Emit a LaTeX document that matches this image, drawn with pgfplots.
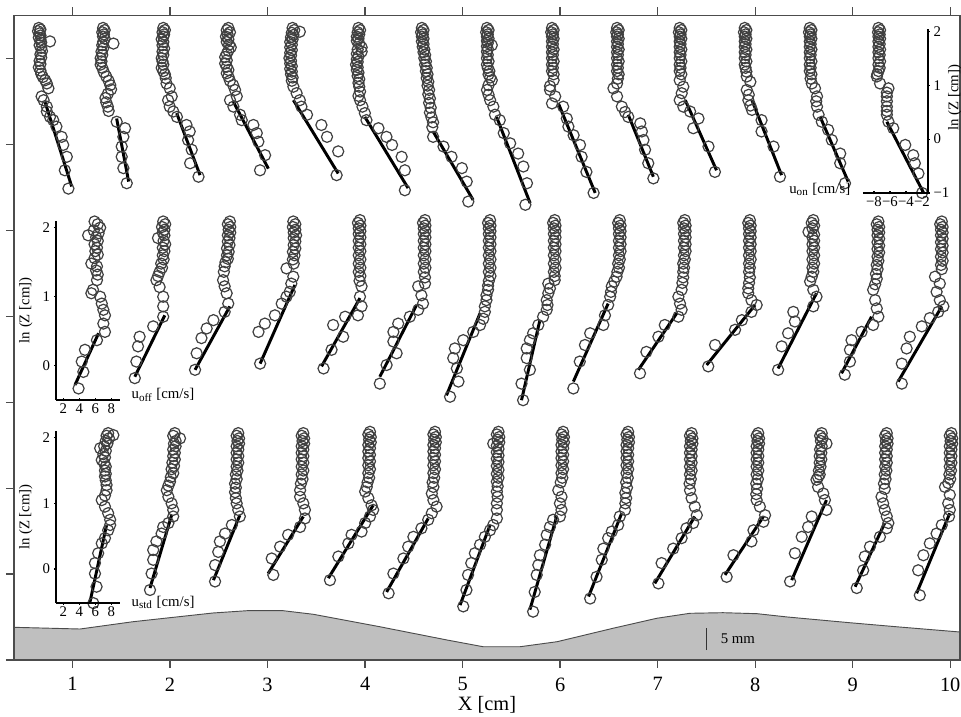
\documentclass[border=0pt]{standalone}
\usepackage{fontspec}
\setmainfont{Liberation Serif}
\usepackage{pgfplots}
\pgfplotsset{compat=1.18}
\newlength\px \setlength\px{0.019cm}
\pgfplotsset{
 circ/.style={only marks, mark=o, mark size=3.0pt, mark options={draw=black!75, line width=0.65pt}},
 fitl/.style={black, line width=1.6pt, mark=none},
 rowax/.style={scale only axis, anchor=south west, width=946\px, xmin=0.4, xmax=10.1, hide axis, clip=false},
 inset/.style={scale only axis, anchor=south west, clip=false,
   tick align=inside, major tick length=3\px, tick style={black, line width=0.6pt},
   tick label style={font=\fontsize{8}{9}\selectfont}, label style={font=\fontsize{8}{9}\selectfont},
   /pgf/number format/assume math mode=true},
 insetlines/.style={x axis line style={-, black, line width=0.9pt}, y axis line style={-, black, line width=0.9pt},
   every outer x axis line/.append style={-}, every outer y axis line/.append style={-}},
}
\newcommand\prof[3]{%
 \addplot[circ] table[row sep=\\, x expr=#1+0.08203*\thisrow{u}, y=z]{u z\\ #2};
 \addplot[fitl] table[row sep=\\, x expr=#1+0.08203*\thisrow{u}, y=z]{u z\\ #3};
}
\begin{document}
\begin{tikzpicture}
\useasboundingbox (0,0) rectangle (961\px,716\px);
% ---------------- main axis with bed ----------------
\begin{axis}[at={(14\px,56\px)}, anchor=south west, scale only axis, width=946\px, height=644.7\px,
  xmin=0.4, xmax=10.1, ymin=0, ymax=148.55, axis on top,
  xtick={1,2,...,10}, ytick={0,19.79,39.59,59.38,79.17,98.96,118.76,138.55}, yticklabels={},
  tick align=outside, major tick length=8\px,
  axis line style={black!70, line width=0.7pt}, tick style={black!70, line width=0.7pt},
  tick label style={font=\fontsize{11}{12}\selectfont}, label style={font=\fontsize{11}{12}\selectfont},
  xticklabel style={yshift=-3\px},
  /pgf/number format/assume math mode=true,
  xlabel={X [cm]}, xlabel style={at={(axis description cs:0.5,0)}, anchor=base, yshift=-50\px}]
\addplot[draw=black!70, line width=0.5pt, fill={rgb,255:red,191;green,191;blue,191}] coordinates {
(0.40,7.53)(1.077,7.14)(1.62,8.82)(2.44,10.83)(2.79,11.36)(3.16,11.36)(3.47,10.53)(4.15,7.67)(4.84,4.61)(5.21,3.06)(5.59,3.06)(5.97,4.22)(6.54,7.30)(6.99,9.61)(7.33,10.76)(7.67,10.90)(8.02,10.67)(8.33,9.91)(8.97,8.59)(9.48,7.60)(10.10,6.45)} \closedcycle;
\addplot[black!80, line width=0.6pt] coordinates {(7.5,2.3)(7.5,7.3)};
\node[anchor=west, font=\fontsize{8}{9}\selectfont] at (axis cs:7.58,4.8) {5 mm};
\end{axis}
% ---------------- top row (onshore) ----------------
\begin{axis}[rowax, at={(14\px,506.9\px)}, height=194.1\px, ymin=-1.3, ymax=2.3]
\prof{1.204}{-6.7 2.06\\ -6.5 2.03\\ -6.8 2.0\\ -6.6 1.96\\ -6.5 1.92\\ -6.7 1.88\\ -5.3 1.81\\ -6.5 1.84\\ -6.4 1.79\\ -6.6 1.74\\ -6.4 1.69\\ -6.3 1.63\\ -6.5 1.57\\ -6.4 1.51\\ -6.6 1.45\\ -6.5 1.39\\ -6.7 1.33\\ -6.5 1.27\\ -6.4 1.21\\ -6.2 1.15\\ -5.9 1.09\\ -5.7 1.03\\ -5.5 0.94\\ -6.35 0.79\\ -6.1 0.72\\ -5.7 0.60\\ -5.7 0.51\\ -5.3 0.41\\ -4.9 0.35\\ -4.5 0.23\\ -3.85 0.04\\ -3.65 -0.11\\ -3.2 -0.33\\ -3.45 -0.58\\ -3.0 -0.92\\}{-5.93 0.69\\ -2.59 -0.88\\}
\prof{1.871}{-6.8 2.06\\ -6.6 2.02\\ -6.9 1.98\\ -6.7 1.94\\ -6.8 1.9\\ -6.6 1.86\\ -5.5 1.77\\ -6.8 1.8\\ -6.9 1.74\\ -6.8 1.68\\ -7.0 1.62\\ -6.9 1.56\\ -7.1 1.5\\ -7.0 1.44\\ -7.1 1.38\\ -6.9 1.32\\ -6.7 1.24\\ -6.4 1.16\\ -6.1 1.08\\ -5.9 1.0\\ -5.8 0.92\\ -6.2 0.84\\ -6.5 0.76\\ -6.4 0.68\\ -6.2 0.6\\ -6.1 0.52\\ -5.1 0.32\\ -4.05 0.20\\ -4.26 0.04\\ -4.47 -0.14\\ -4.47 -0.33\\ -4.26 -0.54\\ -3.84 -0.82\\}{-5.1 0.38\\ -3.6 -0.79\\}
\prof{2.538}{-7.4 2.06\\ -7.2 2.02\\ -7.5 1.98\\ -7.3 1.94\\ -7.4 1.9\\ -7.6 1.85\\ -7.4 1.8\\ -7.5 1.74\\ -7.3 1.68\\ -7.5 1.62\\ -7.4 1.56\\ -7.6 1.5\\ -7.5 1.44\\ -7.4 1.38\\ -7.6 1.32\\ -7.4 1.26\\ -7.2 1.2\\ -7.1 1.13\\ -7.0 1.03\\ -6.6 0.94\\ -6.35 0.79\\ -6.8 0.72\\ -6.6 0.6\\ -6.15 0.51\\ -5.7 0.41\\ -4.5 0.26\\ -4.1 0.14\\ -4.3 -0.02\\ -3.85 -0.2\\ -4.05 -0.45\\ -3.0 -0.70\\}{-5.73 0.48\\ -2.81 -0.67\\}
\prof{3.205}{-7.4 2.06\\ -7.6 2.02\\ -7.2 1.98\\ -7.5 1.94\\ -7.7 1.9\\ -7.4 1.85\\ -7.6 1.8\\ -7.3 1.75\\ -7.1 1.7\\ -7.4 1.64\\ -7.6 1.58\\ -7.8 1.52\\ -7.6 1.46\\ -7.8 1.4\\ -7.6 1.34\\ -7.4 1.28\\ -7.6 1.22\\ -7.4 1.16\\ -7.2 1.08\\ -6.8 1.0\\ -6.56 0.91\\ -6.35 0.79\\ -7.19 0.72\\ -6.77 0.60\\ -5.94 0.45\\ -5.73 0.35\\ -4.27 0.26\\ -3.85 0.11\\ -3.65 -0.05\\ -2.81 -0.30\\ -3.44 -0.58\\}{-6.77 0.69\\ -2.40 -0.55\\}
\prof{3.872}{-7.5 2.06\\ -7.3 2.02\\ -6.6 1.99\\ -7.6 1.97\\ -7.4 1.93\\ -7.7 1.89\\ -7.5 1.85\\ -7.8 1.8\\ -7.6 1.75\\ -7.8 1.7\\ -7.6 1.65\\ -7.8 1.6\\ -7.7 1.55\\ -7.9 1.5\\ -7.7 1.45\\ -7.8 1.4\\ -7.6 1.35\\ -7.8 1.3\\ -7.6 1.25\\ -7.7 1.2\\ -7.5 1.14\\ -7.6 1.08\\ -7.4 0.97\\ -7.0 0.85\\ -6.6 0.72\\ -6.4 0.60\\ -5.7 0.45\\ -3.9 0.26\\ -3.2 0.04\\ -1.8 -0.23\\ -2.0 -0.67\\}{-7.4 0.72\\ -1.8 -0.64\\}
\prof{4.539}{-7.4 2.06\\ -7.2 2.02\\ -7.5 1.98\\ -7.3 1.94\\ -7.6 1.9\\ -7.4 1.86\\ -7.6 1.82\\ -7.3 1.77\\ -7.0 1.7\\ -7.0 1.62\\ -7.5 1.66\\ -7.6 1.58\\ -7.4 1.53\\ -7.6 1.48\\ -7.5 1.43\\ -7.7 1.38\\ -7.5 1.33\\ -7.6 1.28\\ -7.4 1.23\\ -7.5 1.17\\ -7.3 1.11\\ -7.4 1.04\\ -7.3 0.97\\ -7.2 0.88\\ -7.4 0.80\\ -7.2 0.72\\ -6.9 0.6\\ -6.6 0.48\\ -6.4 0.35\\ -4.9 0.20\\ -3.9 0.04\\ -3.2 -0.11\\ -2.0 -0.33\\ -1.6 -0.58\\ -1.6 -0.95\\}{-6.6 0.41\\ -1.2 -0.91\\}
\prof{5.206}{-7.6 2.06\\ -7.4 2.02\\ -7.7 1.98\\ -7.5 1.94\\ -7.6 1.9\\ -7.4 1.86\\ -7.6 1.81\\ -7.4 1.76\\ -7.5 1.71\\ -7.3 1.66\\ -7.4 1.61\\ -7.2 1.56\\ -7.3 1.5\\ -7.1 1.44\\ -7.2 1.38\\ -7.0 1.32\\ -7.1 1.26\\ -6.9 1.2\\ -7.0 1.13\\ -6.8 1.06\\ -6.9 0.99\\ -6.7 0.91\\ -6.8 0.83\\ -6.6 0.75\\ -6.7 0.67\\ -6.5 0.58\\ -6.6 0.49\\ -6.4 0.4\\ -6.2 0.31\\ -6.3 0.22\\ -6.2 0.04\\ -4.9 -0.14\\ -3.9 -0.33\\ -2.6 -0.54\\ -2.0 -0.79\\ -1.8 -1.16\\}{-6.2 0.14\\ -1.2 -1.13\\}
\prof{5.873}{-7.6 2.06\\ -7.4 2.02\\ -7.7 1.98\\ -7.5 1.94\\ -7.6 1.9\\ -7.4 1.86\\ -7.0 1.74\\ -7.6 1.82\\ -7.5 1.78\\ -7.6 1.72\\ -7.5 1.67\\ -7.6 1.62\\ -7.5 1.56\\ -7.6 1.5\\ -7.4 1.44\\ -7.6 1.38\\ -7.5 1.32\\ -7.3 1.26\\ -7.4 1.2\\ -7.2 1.14\\ -7.0 1.09\\ -7.4 1.0\\ -7.6 0.91\\ -7.4 0.82\\ -7.2 0.72\\ -6.8 0.60\\ -6.6 0.45\\ -6.0 0.35\\ -5.5 0.11\\ -4.7 -0.08\\ -3.7 -0.27\\ -3.05 -0.51\\ -2.6 -0.82\\ -2.8 -1.22\\}{-6.4 0.41\\ -2.2 -1.19\\}
\prof{6.540}{-7.6 2.06\\ -7.4 2.02\\ -7.7 1.98\\ -7.5 1.94\\ -7.6 1.9\\ -7.4 1.86\\ -7.6 1.81\\ -7.5 1.76\\ -7.6 1.71\\ -7.4 1.66\\ -7.6 1.61\\ -7.5 1.56\\ -7.6 1.5\\ -7.4 1.44\\ -7.6 1.38\\ -7.5 1.32\\ -7.6 1.26\\ -7.4 1.2\\ -7.4 1.09\\ -7.85 0.98\\ -7.85 0.91\\ -7.2 0.79\\ -7.6 0.66\\ -6.2 0.60\\ -5.75 0.38\\ -5.55 0.23\\ -4.9 0.07\\ -4.1 -0.11\\ -3.9 -0.33\\ -3.3 -0.61\\ -2.4 -1.0\\}{-6.8 0.66\\ -2.2 -1.0\\}
\prof{7.207}{-7.6 2.06\\ -7.4 2.02\\ -7.7 1.98\\ -7.5 1.94\\ -7.6 1.9\\ -7.4 1.86\\ -7.6 1.81\\ -7.5 1.76\\ -7.6 1.71\\ -7.4 1.66\\ -7.6 1.61\\ -7.5 1.56\\ -7.6 1.5\\ -7.4 1.44\\ -7.6 1.38\\ -7.5 1.32\\ -7.6 1.26\\ -7.4 1.2\\ -7.5 1.12\\ -7.6 1.03\\ -8.05 0.94\\ -7.6 0.79\\ -7.0 0.60\\ -6.6 0.50\\ -6.2 0.41\\ -4.7 0.29\\ -4.5 0.14\\ -4.3 -0.02\\ -4.1 -0.20\\ -3.7 -0.45\\ -3.06 -0.73\\}{-6.2 0.45\\ -3.06 -0.70\\}
\prof{7.874}{-7.9 2.06\\ -7.7 2.02\\ -8.0 1.98\\ -7.8 1.94\\ -7.9 1.9\\ -7.7 1.86\\ -7.9 1.81\\ -7.8 1.76\\ -7.9 1.71\\ -7.7 1.66\\ -7.9 1.61\\ -7.8 1.56\\ -7.9 1.5\\ -7.7 1.44\\ -7.9 1.38\\ -7.8 1.32\\ -7.9 1.26\\ -7.7 1.2\\ -7.9 1.09\\ -7.45 0.97\\ -7.65 0.85\\ -7.9 0.72\\ -7.45 0.60\\ -6.6 0.51\\ -5.55 0.38\\ -6.2 0.20\\ -4.3 -0.14\\ -3.5 -0.61\\}{-7.2 0.72\\ -3.3 -0.58\\}
\prof{8.541}{-7.9 2.06\\ -7.7 2.02\\ -8.0 1.98\\ -7.8 1.94\\ -7.9 1.9\\ -7.7 1.86\\ -7.9 1.81\\ -7.8 1.76\\ -7.9 1.71\\ -7.7 1.66\\ -7.9 1.61\\ -7.8 1.56\\ -7.9 1.5\\ -7.7 1.44\\ -7.9 1.38\\ -7.8 1.32\\ -7.7 1.25\\ -7.65 1.16\\ -7.2 1.06\\ -7.65 0.91\\ -7.4 0.82\\ -7.45 0.72\\ -7.2 0.62\\ -7.0 0.54\\ -5.8 0.35\\ -5.8 0.14\\ -4.3 -0.14\\ -3.5 -0.70\\}{-7.0 0.72\\ -3.3 -0.67\\}
\prof{9.208}{-7.9 2.06\\ -7.7 2.02\\ -8.0 1.98\\ -7.8 1.94\\ -7.9 1.9\\ -7.7 1.86\\ -7.9 1.81\\ -7.8 1.76\\ -7.9 1.71\\ -7.7 1.66\\ -7.9 1.61\\ -7.8 1.56\\ -7.9 1.5\\ -7.7 1.44\\ -7.9 1.38\\ -7.8 1.32\\ -7.9 1.26\\ -7.7 1.2\\ -7.8 1.12\\ -7.65 1.03\\ -7.25 0.94\\ -7.0 0.79\\ -7.1 0.70\\ -7.0 0.60\\ -6.8 0.45\\ -6.4 0.32\\ -5.6 0.17\\ -5.15 -0.02\\ -4.1 -0.27\\ -4.1 -0.45\\ -3.5 -0.82\\}{-6.6 0.41\\ -3.1 -0.79\\}
\prof{9.875}{-7.45 2.06\\ -7.25 2.02\\ -7.5 1.98\\ -7.3 1.94\\ -7.45 1.9\\ -7.25 1.86\\ -7.45 1.81\\ -7.3 1.76\\ -7.45 1.71\\ -7.25 1.66\\ -7.45 1.61\\ -7.3 1.56\\ -7.45 1.5\\ -7.25 1.44\\ -7.45 1.38\\ -7.3 1.32\\ -7.45 1.26\\ -7.6 1.2\\ -7.65 1.16\\ -7.25 1.03\\ -6.2 0.94\\ -6.4 0.86\\ -6.4 0.79\\ -6.4 0.70\\ -6.4 0.60\\ -6.4 0.52\\ -6.4 0.45\\ -6.2 0.32\\ -5.6 0.20\\ -4.1 -0.11\\ -3.1 -0.30\\ -2.9 -0.45\\ -2.45 -0.64\\ -2.0 -1.0\\}{-6.4 0.32\\ -1.8 -1.0\\}
\end{axis}
% ---------------- middle row (offshore) ----------------
\begin{axis}[rowax, at={(14\px,295.1\px)}, height=207\px, ymin=-0.8, ymax=2.2]
\prof{0.742}{5.9 2.09\\ 6.3 2.05\\ 6.6 2.0\\ 5.8 1.96\\ 6.4 1.92\\ 5.1 1.89\\ 6.1 1.86\\ 6.3 1.81\\ 5.9 1.76\\ 6.2 1.71\\ 6.0 1.66\\ 6.3 1.61\\ 5.9 1.56\\ 5.5 1.48\\ 6.2 1.44\\ 6.1 1.38\\ 6.3 1.32\\ 6.2 1.24\\ 5.7 1.10\\ 5.5 1.05\\ 6.6 1.0\\ 6.8 0.90\\ 7.0 0.81\\ 7.2 0.73\\ 7.0 0.61\\ 7.2 0.49\\ 6.2 0.37\\ 4.7 0.23\\ 4.3 0.06\\ 4.5 -0.09\\ 3.9 -0.33\\}{3.45 -0.28\\ 6.4 0.47\\}
\prof{1.409}{6.35 2.09\\ 6.6 2.05\\ 6.2 2.01\\ 6.5 1.97\\ 6.3 1.93\\ 5.7 1.85\\ 6.5 1.89\\ 6.4 1.81\\ 6.6 1.76\\ 6.3 1.71\\ 6.5 1.66\\ 6.3 1.6\\ 6.4 1.54\\ 6.1 1.48\\ 6.2 1.42\\ 5.9 1.36\\ 5.7 1.3\\ 5.5 1.24\\ 5.9 1.14\\ 6.35 1.0\\ 6.35 0.86\\ 6.35 0.71\\ 5.1 0.57\\ 3.4 0.42\\ 3.2 0.28\\ 3.0 0.06\\ 2.8 -0.18\\}{2.8 -0.16\\ 6.55 0.73\\}
\prof{2.076}{6.55 2.09\\ 6.3 2.05\\ 6.6 2.01\\ 6.4 1.97\\ 6.6 1.93\\ 6.3 1.89\\ 6.5 1.85\\ 6.3 1.8\\ 6.5 1.75\\ 6.2 1.7\\ 6.4 1.65\\ 6.2 1.6\\ 6.3 1.55\\ 6.0 1.5\\ 5.9 1.44\\ 5.8 1.36\\ 5.7 1.24\\ 5.9 1.15\\ 6.15 1.05\\ 6.35 0.90\\ 5.9 0.78\\ 4.5 0.66\\ 3.65 0.54\\ 3.0 0.40\\ 2.4 0.18\\ 2.2 -0.06\\}{2.2 -0.06\\ 6.55 0.86\\}
\prof{2.743}{6.35 2.09\\ 6.6 2.05\\ 6.3 2.01\\ 6.6 1.97\\ 6.4 1.93\\ 6.7 1.89\\ 6.4 1.85\\ 6.6 1.8\\ 6.4 1.75\\ 6.6 1.7\\ 6.3 1.65\\ 6.5 1.6\\ 6.3 1.54\\ 6.4 1.48\\ 5.5 1.41\\ 6.35 1.29\\ 6.1 1.19\\ 5.9 1.07\\ 5.5 1.0\\ 4.9 0.90\\ 4.05 0.73\\ 2.8 0.61\\ 2.0 0.49\\ 2.2 0.03\\}{2.2 0.03\\ 6.55 1.17\\}
\prof{3.410}{6.55 2.11\\ 6.3 2.07\\ 6.6 2.03\\ 6.4 1.99\\ 6.6 1.95\\ 6.4 1.91\\ 6.6 1.86\\ 6.4 1.81\\ 6.6 1.76\\ 6.4 1.71\\ 6.6 1.66\\ 6.4 1.6\\ 6.6 1.54\\ 6.4 1.48\\ 6.6 1.42\\ 6.4 1.36\\ 6.6 1.3\\ 6.5 1.23\\ 6.75 1.15\\ 6.55 1.0\\ 6.75 0.86\\ 6.3 0.73\\ 4.7 0.71\\ 3.2 0.59\\ 4.45 0.42\\ 3.0 0.23\\ 2.0 -0.04\\}{1.75 -0.01\\ 6.55 0.98\\}
\prof{4.077}{6.55 2.11\\ 6.3 2.07\\ 6.6 2.03\\ 6.4 1.99\\ 6.6 1.95\\ 6.4 1.91\\ 6.6 1.86\\ 6.4 1.81\\ 6.6 1.76\\ 6.4 1.71\\ 6.6 1.66\\ 6.4 1.6\\ 6.6 1.54\\ 6.4 1.48\\ 6.6 1.42\\ 6.4 1.36\\ 6.55 1.28\\ 6.55 1.19\\ 5.7 1.15\\ 6.1 1.02\\ 6.3 0.90\\ 5.7 0.81\\ 4.65 0.71\\ 3.2 0.61\\ 2.6 0.49\\ 2.6 0.35\\ 3.0 0.18\\ 1.75 0.01\\ 0.9 -0.26\\}{0.9 -0.16\\ 5.5 0.88\\}
\prof{4.744}{6.55 2.11\\ 6.3 2.07\\ 6.6 2.03\\ 6.4 1.99\\ 6.6 1.95\\ 6.4 1.91\\ 6.6 1.86\\ 6.4 1.81\\ 6.6 1.76\\ 6.4 1.71\\ 6.6 1.66\\ 6.4 1.6\\ 6.6 1.54\\ 6.4 1.48\\ 6.6 1.42\\ 6.4 1.36\\ 6.6 1.3\\ 6.4 1.23\\ 6.3 1.16\\ 6.3 1.10\\ 6.1 1.02\\ 6.1 0.95\\ 5.9 0.86\\ 5.9 0.78\\ 5.7 0.68\\ 5.3 0.59\\ 4.45 0.49\\ 3.2 0.37\\ 2.15 0.25\\ 1.95 0.11\\ 2.4 -0.04\\ 2.6 -0.23\\ 1.55 -0.45\\}{1.1 -0.43\\ 5.3 0.76\\}
\prof{5.411}{6.5 2.11\\ 6.3 2.07\\ 6.6 2.03\\ 6.4 1.99\\ 6.6 1.95\\ 6.4 1.91\\ 6.6 1.86\\ 6.4 1.81\\ 6.6 1.76\\ 6.4 1.71\\ 6.6 1.66\\ 6.4 1.6\\ 6.6 1.54\\ 6.4 1.48\\ 6.6 1.42\\ 6.4 1.36\\ 6.5 1.3\\ 6.5 1.24\\ 5.7 1.19\\ 5.9 1.12\\ 5.7 1.05\\ 5.5 0.95\\ 5.6 0.88\\ 5.5 0.81\\ 5.05 0.71\\ 4.45 0.59\\ 3.8 0.47\\ 3.4 0.37\\ 3.0 0.25\\ 3.0 0.11\\ 3.4 -0.06\\ 2.35 -0.26\\ 2.55 -0.50\\}{2.35 -0.50\\ 4.65 0.66\\}
\prof{6.078}{6.5 2.11\\ 6.3 2.07\\ 6.6 2.03\\ 6.4 1.99\\ 6.6 1.95\\ 6.4 1.91\\ 6.6 1.86\\ 6.4 1.81\\ 6.6 1.76\\ 6.4 1.71\\ 6.6 1.66\\ 6.4 1.6\\ 6.5 1.54\\ 6.3 1.48\\ 6.4 1.42\\ 6.2 1.36\\ 6.1 1.29\\ 5.8 1.22\\ 5.5 1.15\\ 5.4 1.07\\ 5.3 1.0\\ 5.05 0.88\\ 4.65 0.73\\ 4.45 0.59\\ 2.8 0.47\\ 2.15 0.30\\ 1.5 0.06\\ 0.7 -0.33\\}{0.7 -0.23\\ 5.05 0.90\\}
\prof{6.745}{6.5 2.11\\ 6.3 2.07\\ 6.6 2.03\\ 6.4 1.99\\ 6.6 1.95\\ 6.4 1.91\\ 6.6 1.86\\ 6.4 1.81\\ 6.6 1.76\\ 6.4 1.71\\ 6.6 1.66\\ 6.4 1.6\\ 6.5 1.54\\ 6.3 1.48\\ 6.4 1.42\\ 6.3 1.36\\ 6.3 1.28\\ 6.2 1.2\\ 6.1 1.10\\ 5.7 1.0\\ 5.9 0.90\\ 6.1 0.81\\ 5.7 0.71\\ 4.0 0.59\\ 3.2 0.42\\ 1.7 0.20\\ 0.9 -0.11\\}{0.7 -0.06\\ 5.5 0.76\\}
\prof{7.412}{6.5 2.11\\ 6.3 2.07\\ 6.6 2.03\\ 6.4 1.99\\ 6.6 1.95\\ 6.4 1.91\\ 6.6 1.86\\ 6.4 1.81\\ 6.6 1.76\\ 6.4 1.71\\ 6.6 1.66\\ 6.4 1.6\\ 6.6 1.54\\ 6.4 1.48\\ 6.5 1.42\\ 6.4 1.36\\ 6.5 1.28\\ 6.4 1.2\\ 6.3 1.12\\ 6.3 1.05\\ 6.7 0.95\\ 7.35 0.88\\ 6.7 0.78\\ 5.5 0.66\\ 4.65 0.52\\ 2.15 0.30\\ 1.3 -0.01\\}{1.1 0.01\\ 7.15 0.88\\}
\prof{8.079}{6.3 2.11\\ 6.1 2.07\\ 6.4 2.03\\ 5.7 1.94\\ 6.2 1.99\\ 6.4 1.9\\ 6.2 1.86\\ 6.4 1.81\\ 6.2 1.76\\ 6.4 1.71\\ 6.2 1.66\\ 6.4 1.6\\ 6.2 1.54\\ 6.4 1.48\\ 6.2 1.42\\ 6.3 1.36\\ 6.1 1.29\\ 5.9 1.22\\ 6.3 1.10\\ 6.7 1.0\\ 6.3 0.86\\ 3.8 0.78\\ 4.0 0.64\\ 3.15 0.47\\ 2.35 0.28\\ 1.9 -0.06\\}{1.9 -0.04\\ 6.7 1.05\\}
\prof{8.746}{6.3 2.09\\ 6.1 2.05\\ 6.4 2.01\\ 6.2 1.97\\ 6.4 1.93\\ 6.2 1.89\\ 6.4 1.84\\ 6.2 1.79\\ 6.4 1.74\\ 6.2 1.69\\ 6.4 1.64\\ 6.2 1.58\\ 6.3 1.52\\ 6.1 1.46\\ 6.2 1.4\\ 6.0 1.33\\ 6.1 1.26\\ 5.9 1.18\\ 5.65 1.10\\ 5.9 0.95\\ 6.1 0.83\\ 6.3 0.71\\ 5.65 0.59\\ 4.2 0.49\\ 2.95 0.37\\ 2.75 0.23\\ 2.75 0.06\\ 2.1 -0.13\\}{1.7 -0.11\\ 5.45 0.71\\}
\prof{9.413}{6.1 2.09\\ 5.9 2.05\\ 6.2 2.01\\ 6.0 1.97\\ 6.2 1.93\\ 6.0 1.89\\ 6.2 1.84\\ 6.0 1.79\\ 6.2 1.74\\ 6.0 1.69\\ 6.2 1.64\\ 6.0 1.58\\ 6.2 1.52\\ 6.0 1.46\\ 6.1 1.4\\ 5.25 1.29\\ 5.85 1.19\\ 5.45 1.07\\ 5.85 0.95\\ 6.3 0.86\\ 5.65 0.78\\ 4.6 0.69\\ 3.6 0.57\\ 2.1 0.42\\ 1.7 0.25\\ 1.1 0.03\\ 1.1 -0.26\\}{0.65 -0.23\\ 6.1 0.86\\}
\end{axis}
% ---------------- bottom row (std) ----------------
\begin{axis}[rowax, at={(14\px,94.5\px)}, height=196.9\px, ymin=-0.8, ymax=2.2]
\prof{0.742}{7.6 2.07\\ 8.25 2.04\\ 7.4 2.03\\ 7.7 1.99\\ 7.3 1.95\\ 7.5 1.91\\ 7.1 1.87\\ 6.6 1.84\\ 7.3 1.8\\ 7.0 1.75\\ 7.2 1.7\\ 6.8 1.66\\ 7.1 1.61\\ 7.3 1.56\\ 7.2 1.5\\ 7.3 1.45\\ 7.2 1.41\\ 7.3 1.35\\ 7.4 1.28\\ 7.4 1.20\\ 7.2 1.12\\ 6.8 1.05\\ 7.2 0.95\\ 7.6 0.85\\ 7.85 0.75\\ 7.85 0.67\\ 7.6 0.59\\ 7.2 0.47\\ 6.8 0.39\\ 6.35 0.24\\ 5.95 0.09\\ 5.95 -0.07\\ 6.15 -0.27\\ 5.75 -0.52\\}{5.3 -0.52\\ 7.4 0.67\\}
\prof{1.409}{7.8 2.07\\ 8.45 1.99\\ 7.6 2.03\\ 7.9 1.95\\ 7.7 1.91\\ 7.9 1.87\\ 7.6 1.82\\ 7.8 1.77\\ 7.6 1.72\\ 7.8 1.67\\ 7.5 1.62\\ 7.7 1.57\\ 7.4 1.52\\ 7.6 1.46\\ 7.3 1.4\\ 7.2 1.33\\ 7.0 1.27\\ 6.8 1.20\\ 7.0 1.10\\ 7.4 1.0\\ 7.6 0.90\\ 7.6 0.80\\ 7.0 0.70\\ 6.35 0.64\\ 6.15 0.54\\ 5.5 0.42\\ 5.1 0.29\\ 5.1 0.14\\ 4.9 -0.07\\ 4.7 -0.32\\}{4.7 -0.29\\ 7.4 0.82\\}
\prof{2.076}{7.6 2.07\\ 7.4 2.03\\ 7.7 1.99\\ 7.5 1.95\\ 7.7 1.91\\ 7.4 1.87\\ 7.6 1.82\\ 7.4 1.77\\ 7.6 1.72\\ 7.4 1.67\\ 7.6 1.62\\ 7.4 1.56\\ 7.5 1.5\\ 7.3 1.44\\ 7.4 1.37\\ 7.2 1.3\\ 7.3 1.24\\ 7.2 1.17\\ 7.3 1.08\\ 7.4 1.0\\ 7.6 0.90\\ 7.8 0.80\\ 6.8 0.67\\ 5.95 0.54\\ 5.3 0.42\\ 5.1 0.26\\ 4.7 0.06\\ 4.7 -0.19\\}{4.5 -0.17\\ 7.8 0.82\\}
\prof{2.743}{7.6 2.07\\ 7.4 2.03\\ 7.7 1.99\\ 7.5 1.95\\ 7.7 1.91\\ 7.4 1.87\\ 7.6 1.82\\ 7.4 1.77\\ 7.6 1.72\\ 7.4 1.67\\ 7.6 1.62\\ 7.4 1.56\\ 7.6 1.5\\ 7.4 1.44\\ 7.5 1.37\\ 7.3 1.3\\ 7.2 1.2\\ 7.2 1.10\\ 7.6 1.0\\ 7.8 0.90\\ 7.8 0.77\\ 7.2 0.64\\ 5.7 0.52\\ 4.7 0.34\\ 3.65 0.16\\ 3.85 -0.09\\}{3.2 -0.07\\ 7.6 0.80\\}
\prof{3.410}{7.8 2.09\\ 7.6 2.05\\ 7.9 2.01\\ 7.7 1.97\\ 7.9 1.93\\ 7.6 1.89\\ 7.8 1.84\\ 7.6 1.79\\ 7.8 1.74\\ 7.6 1.69\\ 7.8 1.64\\ 7.6 1.58\\ 7.8 1.52\\ 7.6 1.46\\ 7.7 1.39\\ 7.5 1.32\\ 7.4 1.25\\ 7.2 1.18\\ 7.6 1.08\\ 8.0 0.97\\ 8.2 0.90\\ 7.8 0.80\\ 7.2 0.70\\ 6.75 0.57\\ 5.5 0.52\\ 5.1 0.39\\ 3.85 0.19\\ 2.8 -0.17\\}{2.6 -0.14\\ 8.2 0.97\\}
\prof{4.077}{7.8 2.09\\ 7.6 2.05\\ 7.9 2.01\\ 7.7 1.97\\ 7.9 1.93\\ 7.6 1.89\\ 7.8 1.84\\ 7.6 1.79\\ 7.8 1.74\\ 7.6 1.69\\ 7.8 1.64\\ 7.6 1.58\\ 7.8 1.52\\ 7.6 1.46\\ 7.7 1.39\\ 7.5 1.32\\ 7.6 1.25\\ 7.4 1.15\\ 7.6 1.05\\ 8.0 0.95\\ 7.4 0.85\\ 6.95 0.75\\ 6.1 0.62\\ 5.1 0.49\\ 4.45 0.34\\ 3.85 0.16\\ 2.6 -0.07\\ 2.0 -0.37\\}{1.75 -0.35\\ 6.95 0.77\\}
\prof{4.744}{7.6 2.09\\ 7.4 2.05\\ 7.7 2.01\\ 6.95 1.91\\ 7.5 1.97\\ 7.7 1.93\\ 7.4 1.88\\ 7.6 1.83\\ 7.4 1.78\\ 7.6 1.73\\ 7.4 1.68\\ 7.6 1.63\\ 7.4 1.57\\ 7.6 1.51\\ 7.4 1.45\\ 7.6 1.39\\ 7.4 1.33\\ 7.5 1.26\\ 7.4 1.18\\ 7.5 1.10\\ 7.4 1.0\\ 7.4 0.90\\ 7.4 0.77\\ 6.95 0.67\\ 6.55 0.59\\ 5.9 0.49\\ 5.3 0.37\\ 4.65 0.24\\ 4.2 0.09\\ 3.8 -0.09\\ 3.6 -0.32\\ 3.2 -0.57\\}{2.8 -0.55\\ 6.55 0.67\\}
\prof{5.411}{7.55 2.09\\ 7.35 2.05\\ 7.65 2.01\\ 7.45 1.97\\ 7.65 1.93\\ 7.35 1.89\\ 7.55 1.84\\ 7.35 1.79\\ 7.55 1.74\\ 7.35 1.69\\ 7.55 1.64\\ 7.35 1.58\\ 7.55 1.52\\ 7.35 1.46\\ 7.45 1.39\\ 7.25 1.32\\ 6.95 1.20\\ 7.35 1.10\\ 7.15 1.0\\ 7.35 0.90\\ 7.15 0.80\\ 6.3 0.75\\ 5.9 0.64\\ 5.5 0.52\\ 5.3 0.37\\ 4.65 0.21\\ 4.45 0.06\\ 4.25 -0.09\\ 4.0 -0.35\\ 3.8 -0.65\\}{3.4 -0.62\\ 6.75 0.80\\}
\prof{6.078}{7.55 2.09\\ 7.35 2.05\\ 7.65 2.01\\ 7.45 1.97\\ 7.65 1.93\\ 7.35 1.89\\ 7.55 1.84\\ 7.35 1.79\\ 7.55 1.74\\ 7.35 1.69\\ 7.55 1.64\\ 7.35 1.58\\ 7.55 1.52\\ 7.35 1.46\\ 7.5 1.39\\ 7.3 1.32\\ 7.4 1.24\\ 7.2 1.16\\ 7.3 1.08\\ 7.2 1.0\\ 7.15 0.90\\ 6.5 0.80\\ 6.3 0.67\\ 5.5 0.57\\ 5.05 0.47\\ 4.45 0.31\\ 4.25 0.14\\ 3.6 -0.12\\ 2.8 -0.45\\}{2.6 -0.42\\ 6.75 0.85\\}
\prof{6.745}{7.35 2.07\\ 7.15 2.03\\ 7.45 1.99\\ 7.25 1.95\\ 7.45 1.91\\ 7.15 1.87\\ 7.35 1.82\\ 7.15 1.77\\ 7.35 1.72\\ 7.15 1.67\\ 7.35 1.62\\ 7.15 1.56\\ 7.35 1.5\\ 7.15 1.44\\ 7.25 1.37\\ 7.1 1.3\\ 7.15 1.20\\ 7.35 1.08\\ 7.75 0.95\\ 8.0 0.82\\ 7.55 0.70\\ 6.7 0.62\\ 6.1 0.47\\ 5.05 0.31\\ 3.6 0.09\\ 3.2 -0.22\\}{2.75 -0.22\\ 7.75 0.80\\}
\prof{7.412}{7.55 2.07\\ 7.35 2.03\\ 7.65 1.99\\ 7.45 1.95\\ 7.65 1.91\\ 7.35 1.87\\ 7.55 1.82\\ 7.35 1.77\\ 7.55 1.72\\ 7.35 1.67\\ 7.55 1.62\\ 7.35 1.56\\ 7.55 1.5\\ 7.35 1.44\\ 7.5 1.37\\ 7.3 1.3\\ 7.4 1.22\\ 7.3 1.14\\ 7.35 1.05\\ 7.75 0.95\\ 8.4 0.82\\ 8.2 0.72\\ 6.95 0.59\\ 6.7 0.42\\ 4.45 0.21\\ 3.6 -0.12\\}{3.4 -0.09\\ 8.2 0.80\\}
\prof{8.079}{7.35 2.07\\ 7.95 1.91\\ 7.15 2.03\\ 7.45 1.99\\ 7.25 1.95\\ 7.35 1.87\\ 7.15 1.82\\ 7.3 1.77\\ 7.1 1.72\\ 7.3 1.67\\ 7.1 1.62\\ 7.2 1.56\\ 7.0 1.5\\ 7.1 1.44\\ 6.9 1.4\\ 6.7 1.36\\ 6.9 1.25\\ 7.55 1.15\\ 7.75 1.05\\ 7.95 0.90\\ 6.1 0.80\\ 5.65 0.64\\ 4.85 0.49\\ 4.0 0.24\\ 3.4 -0.19\\}{3.6 -0.17\\ 7.95 1.05\\}
\prof{8.746}{7.35 2.07\\ 7.15 2.03\\ 7.45 1.99\\ 7.25 1.95\\ 7.45 1.91\\ 7.15 1.87\\ 7.35 1.82\\ 7.15 1.77\\ 7.35 1.72\\ 7.15 1.67\\ 7.35 1.62\\ 7.15 1.56\\ 7.3 1.5\\ 7.1 1.44\\ 7.2 1.37\\ 7.0 1.3\\ 7.1 1.22\\ 6.7 1.10\\ 6.9 1.0\\ 7.1 0.90\\ 7.35 0.80\\ 7.55 0.70\\ 7.35 0.62\\ 6.5 0.49\\ 5.25 0.34\\ 4.6 0.19\\ 4.4 -0.02\\ 3.6 -0.29\\}{3.4 -0.27\\ 7.1 0.70\\}
\prof{9.413}{7.3 2.07\\ 7.1 2.03\\ 7.4 1.99\\ 7.2 1.95\\ 7.4 1.91\\ 7.1 1.87\\ 7.3 1.82\\ 7.1 1.77\\ 7.3 1.72\\ 7.1 1.67\\ 7.3 1.62\\ 7.1 1.56\\ 7.25 1.5\\ 7.05 1.44\\ 7.15 1.37\\ 6.9 1.31\\ 6.5 1.25\\ 7.1 1.13\\ 6.9 1.0\\ 7.1 0.90\\ 7.0 0.80\\ 6.1 0.67\\ 5.45 0.54\\ 4.6 0.39\\ 3.8 0.21\\ 3.15 -0.02\\ 3.35 -0.40\\}{2.95 -0.37\\ 7.1 0.85\\}
\end{axis}
% ---------------- inset axes ----------------
\begin{axis}[inset, at={(862.8\px,523\px)}, width=65.2\px, height=164.4\px,
  xmin=-9.4, xmax=-1.25, ymin=-1, ymax=2.05, axis x line=bottom, axis y line=right, insetlines,
  xtick={-8,-6,-4,-2}, xticklabels={−8,−6,−4,−2}, ytick={-1,0,1,2}, yticklabels={−1,0,1,2},
  xticklabel style={inner sep=1pt}, yticklabel style={inner sep=2pt}]
\node[anchor=base east, font=\fontsize{8}{9}\selectfont] at (rel axis cs:0,0) [xshift=-6\px, yshift=-1\px] {u\textsubscript{on} [cm/s]};
\node[font=\fontsize{8}{9}\selectfont, rotate=90] at (axis cs:2.1,0.77) {ln (Z [cm])};
\end{axis}
\begin{axis}[inset, at={(55.7\px,316\px)}, width=64.4\px, height=179.4\px,
  xmin=1.05, xmax=9.1, ymin=-0.5, ymax=2.1, axis x line=bottom, axis y line=left, insetlines,
  xtick={2,4,6,8}, ytick={0,1,2}, ylabel={ln (Z [cm])},
  xticklabel style={inner sep=1pt}, yticklabel style={inner sep=2pt}]
\node[anchor=base west, font=\fontsize{8}{9}\selectfont] at (rel axis cs:1,0) [xshift=5\px, yshift=1\px] {u\textsubscript{off} [cm/s]};
\end{axis}
\begin{axis}[inset, at={(55.7\px,112.9\px)}, width=64.4\px, height=172\px,
  xmin=1.05, xmax=9.1, ymin=-0.52, ymax=2.1, axis x line=bottom, axis y line=left, insetlines,
  xtick={2,4,6,8}, ytick={0,1,2}, ylabel={ln (Z [cm])},
  xticklabel style={inner sep=1pt}, yticklabel style={inner sep=2pt}]
\node[anchor=base west, font=\fontsize{8}{9}\selectfont] at (rel axis cs:1,0) [xshift=5\px, yshift=-3\px] {u\textsubscript{std} [cm/s]};
\end{axis}
\end{tikzpicture}
\end{document}
